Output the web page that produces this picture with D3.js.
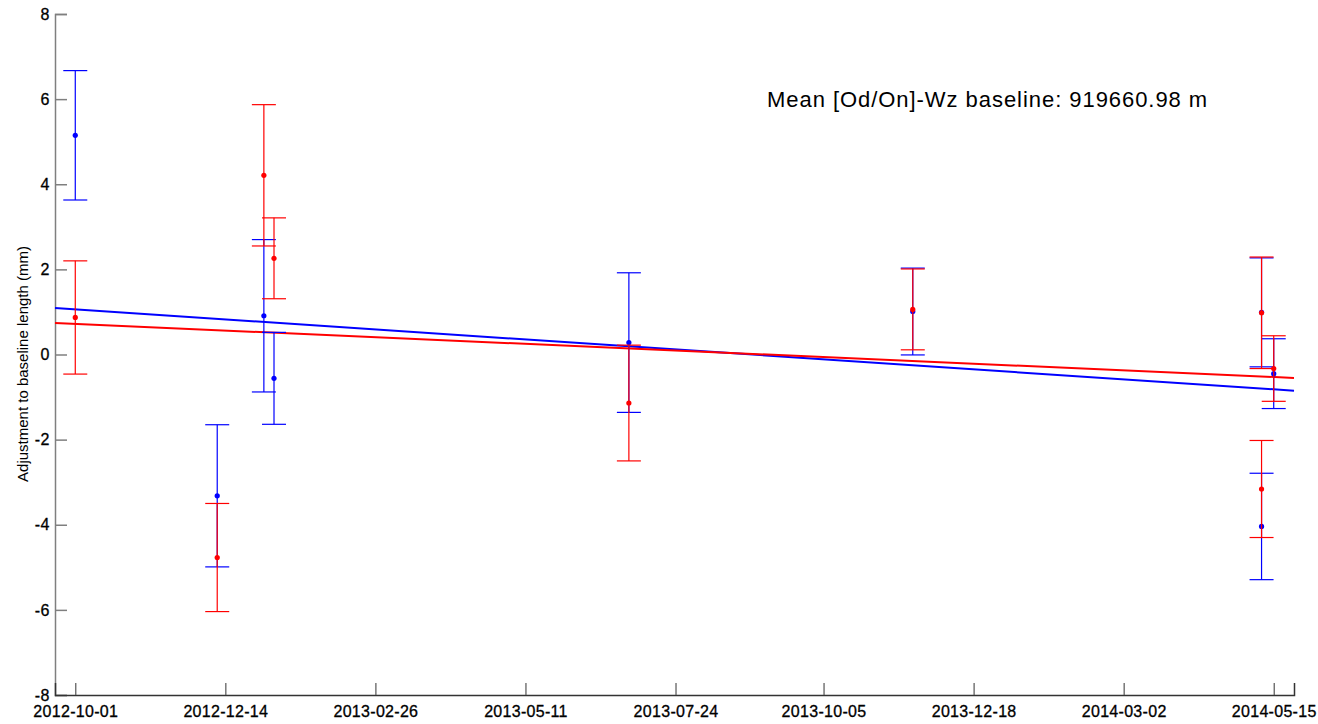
<!DOCTYPE html>
<html><head><meta charset="utf-8">
<script src="https://cdn.jsdelivr.net/npm/d3@7"></script>
<style>
html,body{margin:0;padding:0;background:#fff;}
svg{display:block;font-family:"Liberation Sans",Arial,sans-serif;}
</style></head>
<body><svg id="c" width="1318" height="724"></svg>
<script>
// ---- data ----
const dates = ["2012-10-01","2012-12-10","2013-01-02","2013-01-07","2013-07-01","2013-11-18","2014-05-09","2014-05-09","2014-05-15"];
const blueVals = [5.15,-3.32,0.91,-0.56,0.28,1.01,0.99,-4.04,-0.45];
const blueErr  = [1.52,1.67,1.79,1.08,1.64,1.02,1.28,1.25,0.82];
const redVals  = [0.87,-4.77,4.21,2.26,-1.14,1.06,0.98,-3.16,-0.33];
const redErr   = [1.33,1.27,1.66,0.95,1.36,0.95,1.31,1.14,0.77];
const trendDates = ["2012-09-21","2014-05-25"];
const blueTrend = [1.09,-0.85];
const redTrend  = [0.74,-0.55];
const xTickLabels = ["2012-10-01","2012-12-14","2013-02-26","2013-05-11","2013-07-24","2013-10-05","2013-12-18","2014-03-02","2014-05-15"];
const yTickLabels = [8,6,4,2,0,-2,-4,-6,-8];
const yDomain = [-8,8];
const annotation = "Mean [Od/On]-Wz baseline: 919660.98 m";
const yLabel = "Adjustment to baseline length (mm)";

const parse = d3.utcParse("%Y-%m-%d");
const svg = d3.select("#c");
const L=55, R=1294, T=14, B=695;
const x = d3.scaleUtc().domain(trendDates.map(parse)).range([L,R]);
const y = d3.scaleLinear().domain(yDomain).range([B,T]);

// axes
const yAxis = d3.axisRight(y).tickValues(yTickLabels).tickSize(12).tickFormat(d=>d);
const gy = svg.append("g").attr("transform",`translate(${L},0)`).call(yAxis);
gy.select(".domain").attr("stroke","#7f7f7f").attr("stroke-width",1.5);
gy.selectAll(".tick line").attr("stroke","#7f7f7f").attr("stroke-width",1.5);
gy.selectAll(".tick text").attr("x",-5).attr("text-anchor","end").attr("font-size",16)
  .attr("fill","#000").attr("letter-spacing",0.5).attr("stroke","#000").attr("stroke-width",0.3);

const xAxis = d3.axisTop(x).tickValues(xTickLabels.map(parse)).tickSize(12).tickFormat(d3.utcFormat("%Y-%m-%d"));
const gx = svg.append("g").attr("transform",`translate(0,${B})`).call(xAxis);
gx.select(".domain").attr("stroke","#333").attr("stroke-width",1.5);
gx.selectAll(".tick line").attr("stroke","#555").attr("stroke-width",1.2);
gx.selectAll(".tick text").attr("y",22).attr("dy",0).attr("font-size",16).attr("letter-spacing",0.3)
  .attr("fill","#000").attr("stroke","#000").attr("stroke-width",0.3);

// trend lines
const line = d3.line().x(d=>x(d[0])).y(d=>y(d[1]));
svg.append("path").datum(trendDates.map((d,i)=>[parse(d),blueTrend[i]]))
  .attr("d",line).attr("stroke","#0000ff").attr("stroke-width",2).attr("fill","none");
svg.append("path").datum(trendDates.map((d,i)=>[parse(d),redTrend[i]]))
  .attr("d",line).attr("stroke","#ff0000").attr("stroke-width",2).attr("fill","none");

function drawSeries(vals, errs, color){
  const g = svg.append("g").attr("stroke",color).attr("stroke-width",1.2);
  vals.forEach((v,i)=>{
    const cx = x(parse(dates[i]));
    const y1 = y(v+errs[i]), y2 = y(v-errs[i]);
    g.append("line").attr("x1",cx).attr("x2",cx).attr("y1",y1).attr("y2",y2);
    g.append("line").attr("x1",cx-12).attr("x2",cx+12).attr("y1",y1).attr("y2",y1);
    g.append("line").attr("x1",cx-12).attr("x2",cx+12).attr("y1",y2).attr("y2",y2);
  });
  svg.append("g").selectAll("circle").data(vals).join("circle")
    .attr("cx",(d,i)=>x(parse(dates[i]))).attr("cy",d=>y(d)).attr("r",2.6).attr("fill",color);
}
drawSeries(blueVals, blueErr, "#0000ff");
drawSeries(redVals, redErr, "#ff0000");

// annotation
svg.append("text").attr("x",767).attr("y",107).attr("font-size",22).attr("letter-spacing",0.95)
  .attr("fill","#000").text(annotation);
// y label
svg.append("text").attr("transform","translate(28,364) rotate(-90)").attr("text-anchor","middle")
  .attr("font-size",15).attr("fill","#000").text(yLabel);
</script></body></html>
